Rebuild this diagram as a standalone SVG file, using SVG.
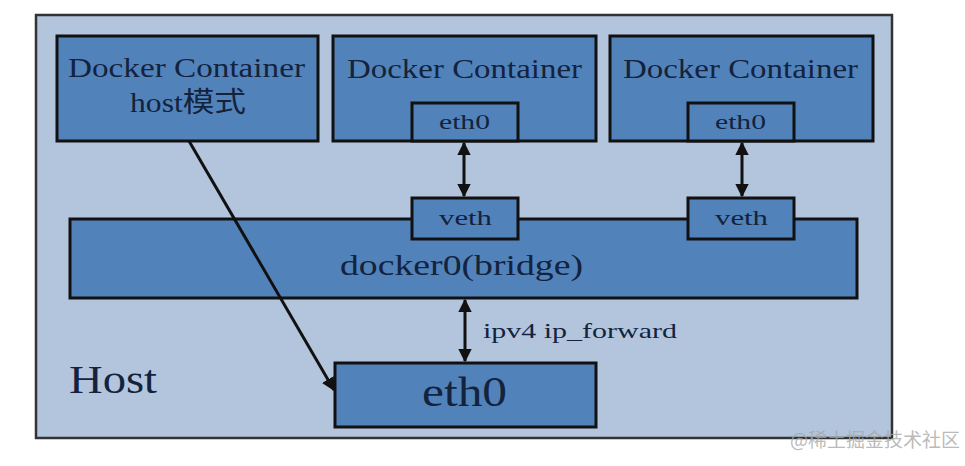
<svg xmlns="http://www.w3.org/2000/svg" width="965" height="466" viewBox="0 0 965 466">
<defs>
<style>
.box{fill:#5282ba;stroke:#111;stroke-width:3}
.t{font-family:"Liberation Serif","Noto Sans CJK SC",serif;fill:#14233d}
.c{stroke:#111;stroke-width:3;fill:none}
</style>
<marker id="ah" viewBox="0 0 10 10" refX="9" refY="5" markerWidth="4.5" markerHeight="4.5" orient="auto-start-reverse" markerUnits="strokeWidth">
<path d="M0,0 L10,5 L0,10 z" fill="#111"/>
</marker>
</defs>
<rect width="965" height="466" fill="#fff"/>
<g id="host">
<rect x="36" y="15" width="856" height="423" fill="#b2c5dd" stroke="#333" stroke-width="2.5"/>
<text class="t" x="69" y="393" font-size="39" textLength="88" lengthAdjust="spacingAndGlyphs">Host</text>
</g>
<g id="container-host">
<rect class="box" x="57" y="36" width="261" height="105"/>
<text class="t" x="68" y="77" font-size="28" textLength="237" lengthAdjust="spacingAndGlyphs">Docker Container</text>
<text class="t" x="130" y="112" font-size="28" textLength="116" lengthAdjust="spacingAndGlyphs">host模式</text>
</g>
<g id="container2">
<rect class="box" x="333" y="36" width="263" height="105"/>
<text class="t" x="347" y="78" font-size="28" textLength="235" lengthAdjust="spacingAndGlyphs">Docker Container</text>
</g>
<g id="container2-eth0">
<rect class="box" x="412" y="103" width="106" height="38"/>
<text class="t" x="439" y="129" font-size="22" textLength="51" lengthAdjust="spacingAndGlyphs">eth0</text>
</g>
<g id="container3">
<rect class="box" x="610" y="36" width="263" height="105"/>
<text class="t" x="623" y="78" font-size="28" textLength="235" lengthAdjust="spacingAndGlyphs">Docker Container</text>
</g>
<g id="container3-eth0">
<rect class="box" x="688" y="103" width="106" height="38"/>
<text class="t" x="715" y="129" font-size="22" textLength="51" lengthAdjust="spacingAndGlyphs">eth0</text>
</g>
<g id="bridge">
<rect class="box" x="70" y="219" width="787" height="79"/>
<text class="t" x="340" y="275" font-size="30" textLength="243" lengthAdjust="spacingAndGlyphs">docker0(bridge)</text>
</g>
<g id="veth1">
<rect class="box" x="412" y="198" width="106" height="41"/>
<text class="t" x="439" y="225" font-size="22" textLength="53" lengthAdjust="spacingAndGlyphs">veth</text>
</g>
<g id="veth2">
<rect class="box" x="688" y="198" width="106" height="41"/>
<text class="t" x="715" y="225" font-size="22" textLength="53" lengthAdjust="spacingAndGlyphs">veth</text>
</g>
<g id="host-eth0">
<rect class="box" x="335" y="363" width="261" height="64"/>
<text class="t" x="422" y="406" font-size="42" textLength="85" lengthAdjust="spacingAndGlyphs">eth0</text>
</g>
<g id="connectors">
<line class="c" x1="464" y1="143" x2="464" y2="196" marker-start="url(#ah)" marker-end="url(#ah)"/>
<line class="c" x1="742" y1="143" x2="742" y2="196" marker-start="url(#ah)" marker-end="url(#ah)"/>
<line class="c" x1="465" y1="300" x2="465" y2="361" marker-start="url(#ah)" marker-end="url(#ah)"/>
<line class="c" x1="189" y1="141" x2="334" y2="390" marker-end="url(#ah)"/>
<text class="t" x="483" y="338" font-size="22" textLength="194" lengthAdjust="spacingAndGlyphs">ipv4 ip_forward</text>
</g>
<text x="790" y="447" font-family="'Noto Sans CJK SC',sans-serif" font-size="19" fill="#a8a8a8" fill-opacity="0.8">@稀土掘金技术社区</text>
</svg>
